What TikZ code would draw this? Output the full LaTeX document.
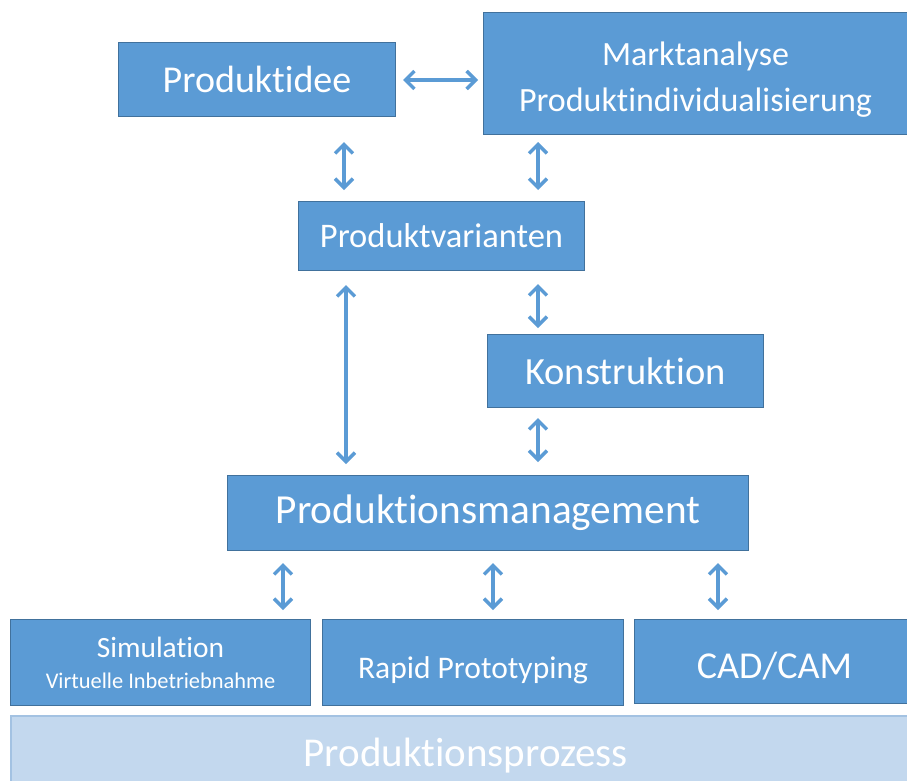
\documentclass[tikz,border=0pt]{standalone}
\usepackage{fontspec}
\setmainfont{Carlito}[Ligatures=NoCommon]
\usetikzlibrary{arrows.meta}
\definecolor{boxfill}{HTML}{5B9BD5}
\definecolor{boxline}{HTML}{41719C}
\definecolor{basefill}{HTML}{C3D8EE}
\definecolor{baseline}{HTML}{A3C2E2}
\newcommand{\fs}[1]{\fontsize{#1}{#1}\selectfont}
% move a label down without changing its reported size
\newcommand{\dropby}[2]{\raisebox{-#1}[\height][\depth]{#2}}
\tikzset{
  blockbox/.style={draw=boxline, fill=boxfill, line width=1pt, text=white,
    anchor=north west, inner sep=0pt, align=center},
  basebox/.style={draw=baseline, fill=basefill, line width=1.5pt, text=white,
    anchor=north west, inner sep=0pt, align=center},
  barb/.tip={Straight Barb[length=9pt,width=18pt,line width=3.5pt]},
  link/.style={draw=boxfill, line width=3.5pt, barb-barb},
}
\begin{document}
\begin{tikzpicture}[x=1pt,y=-1pt]
\useasboundingbox (0,0) rectangle (907,780);
\begin{scope}
\clip (0,0) rectangle (907,780);
% boxes
\node[blockbox, minimum width=277, minimum height=74] (idee) at (118,42) {\fs{38}Produktidee};
\node[blockbox, minimum width=424, minimum height=122] (markt) at (483,12)
  {\dropby{6pt}{\begin{tabular}{@{}c@{}}\fs{34}Marktanalyse\\[19pt]\fs{34}Produktindividualisierung\end{tabular}}};
\node[blockbox, minimum width=286, minimum height=69] (var) at (298,201) {\fs{34.5}Produktvarianten};
\node[blockbox, minimum width=276, minimum height=73] (kon) at (487,334) {\fs{38.5}Konstruktion};
\node[blockbox, minimum width=521, minimum height=75] (pm) at (227,475) {\fs{41.3}Produktionsmanagement};
\node[blockbox, minimum width=300, minimum height=86] (sim) at (10,619)
  {\fs{29.4}Simulation\\[14pt]\fs{22.4}Virtuelle Inbetriebnahme};
\node[blockbox, minimum width=301, minimum height=86] (rp) at (322,619) {\dropby{8pt}{\fs{31.5}Rapid Prototyping}};
\node[blockbox, minimum width=280, minimum height=84] (cad) at (634,619) {\dropby{5pt}{\fs{38}CAD/CAM}};
\node[basebox, minimum width=910, minimum height=80] (proz) at (10,715) {\fs{41}Produktionsprozess};
\end{scope}
% connector columns
\coordinate (cA) at (344,0);
\coordinate (cB) at (538,0);
\coordinate (cC) at (346,0);
\coordinate (cD) at (283,0);
\coordinate (cE) at (493,0);
\coordinate (cF) at (718,0);
\coordinate (rowH) at (0,80);
% connectors
\draw[link, shorten <=7pt, shorten >=5pt] (idee.east |- rowH) -- (markt.west |- rowH);
\draw[link, shorten <=25pt, shorten >=11pt] (idee.south -| cA) -- (var.north -| cA);
\draw[link, shorten <=7pt, shorten >=11pt] (markt.south -| cB) -- (var.north -| cB);
\draw[link, shorten <=14pt, shorten >=11pt] (var.south -| cC) -- (pm.north -| cC);
\draw[link, shorten <=13pt, shorten >=6pt] (var.south -| cB) -- (kon.north -| cB);
\draw[link, shorten <=10pt, shorten >=13pt] (kon.south -| cB) -- (pm.north -| cB);
\draw[link, shorten <=12pt, shorten >=9pt] (pm.south -| cD) -- (sim.north -| cD);
\draw[link, shorten <=12pt, shorten >=9pt] (pm.south -| cE) -- (rp.north -| cE);
\draw[link, shorten <=12pt, shorten >=9pt] (pm.south -| cF) -- (cad.north -| cF);
\end{tikzpicture}
\end{document}
